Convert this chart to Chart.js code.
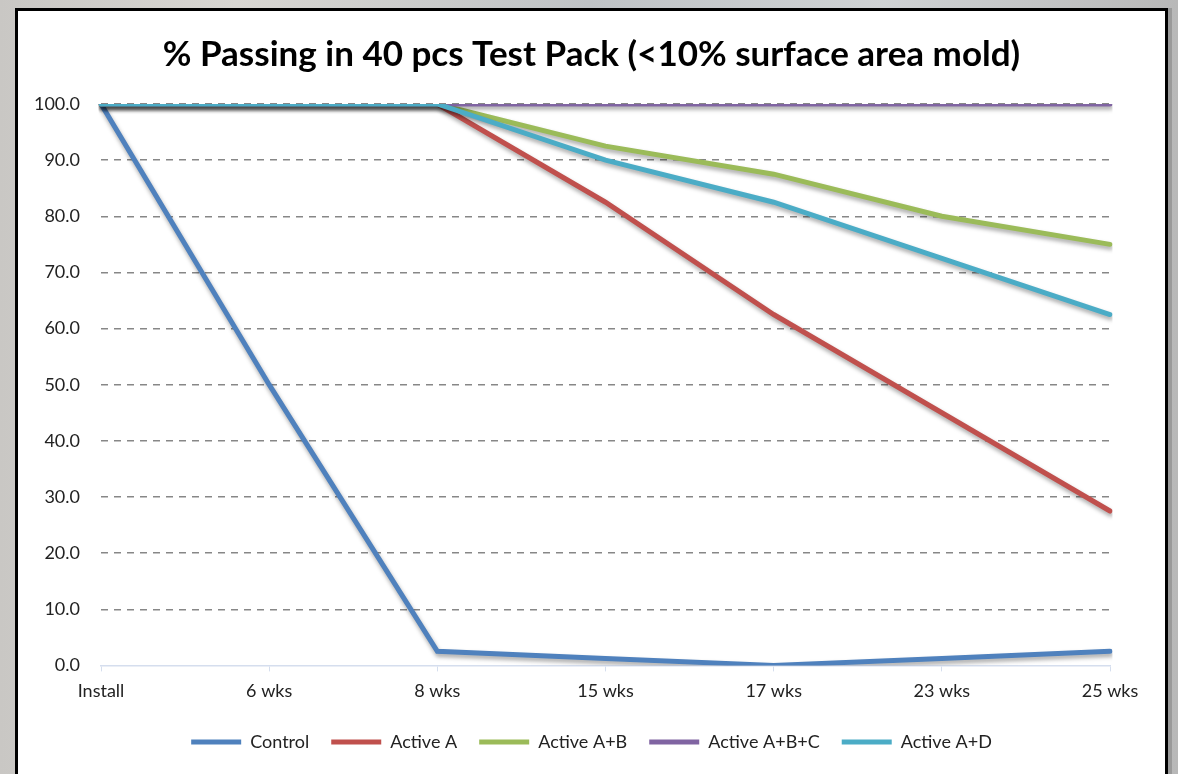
<!DOCTYPE html>
<html>
<head>
<meta charset="utf-8">
<script src="https://cdn.jsdelivr.net/npm/chart.js@4"></script>
<style>
  html, body { margin: 0; padding: 0; }
  body {
    width: 1178px; height: 774px; overflow: hidden;
    background: linear-gradient(90deg, #c9c7c4 0%, #d8d6d2 20%, #bfc3c6 50%, #cfd2d4 75%, #b8b8b8 100%);
    position: relative;
  }
  #panel {
    position: absolute; left: 15px; top: 8px; width: 1147px; height: 780px;
    background: #fff; border: 3px solid #000;
    box-shadow: 4px 0 0 #9a9a9a;
  }
  #wrap { position: absolute; left: 0; top: 0; width: 1147px; height: 763px; }
</style>
</head>
<body>
<div id="panel"><div id="wrap"><canvas id="moldChart"></canvas></div></div>
<script>
const weeks = ['Install', '6 wks', '8 wks', '15 wks', '17 wks', '23 wks', '25 wks'];

const control = [100, 50, 2.5, 1.25, 0, 1.25, 2.5];
const activeA = [100, 100, 100, 82.5, 62.5, 45, 27.5];
const activeAB = [100, 100, 100, 92.5, 87.5, 80, 75];
const activeABC = [100, 100, 100, 100, 100, 100, 100];
const activeAD = [100, 100, 100, 90, 82.5, 72.5, 62.5];

const yTicks = [0, 10, 20, 30, 40, 50, 60, 70, 80, 90, 100];

const font = "Lato, 'Open Sans', sans-serif";

// soft drop shadow under each line, like the office chart
const lineShadow = {
    id: 'lineShadow',
    beforeDatasetDraw(chart) {
        const c = chart.ctx;
        c.save();
        c.shadowColor = 'rgba(0,0,0,0.35)';
        c.shadowBlur = 4;
        c.shadowOffsetX = 1;
        c.shadowOffsetY = 3;
    },
    afterDatasetDraw(chart) {
        chart.ctx.restore();
    }
};

function series(label, data, color, order) {
    return {
        label: label,
        data: data,
        borderColor: color,
        backgroundColor: color,
        borderWidth: 5,
        borderCapStyle: 'round',
        pointRadius: 0,
        tension: 0,
        order: order
    };
}

const ctx = document.getElementById('moldChart').getContext('2d');

const moldChart = new Chart(ctx, {
    type: 'line',
    data: {
        labels: weeks,
        datasets: [
            series('Control', control, '#4F81BD', 4),
            series('Active A', activeA, '#C0504D', 3),
            series('Active A+B', activeAB, '#9BBB59', 2),
            series('Active A+B+C', activeABC, '#8064A2', 1),
            series('Active A+D', activeAD, '#4BACC6', 0)
        ]
    },
    options: {
        responsive: true,
        maintainAspectRatio: false,
        animation: false,
        layout: {
            padding: { left: 0, right: 0, top: 0, bottom: 13 }
        },
        scales: {
            x: {
                offset: false,
                grid: {
                    drawOnChartArea: false,
                    drawTicks: true,
                    tickLength: 6,
                    color: '#d5deee'
                },
                border: { display: true, color: '#d5deee', width: 1.5 },
                ticks: {
                    color: '#222',
                    font: { family: font, size: 18 },
                    padding: 9,
                    maxRotation: 0
                }
            },
            y: {
                min: 0,
                max: 100,
                afterFit(scale) { scale.width = 83; },
                afterBuildTicks(scale) {
                    scale.ticks = yTicks.map(v => ({ value: v }));
                },
                grid: {
                    drawTicks: false,
                    lineWidth: 1.5,
                    color: c => c.tick && c.tick.value === 0 ? 'rgba(0,0,0,0)' : '#878787'
                },
                border: { display: false, dash: [7, 6] },
                ticks: {
                    color: '#222',
                    font: { family: font, size: 18 },
                    padding: 21,
                    callback: v => Number(v).toFixed(1)
                }
            },
            // empty right-hand axis only to keep the plot clear of the border
            spacer: {
                position: 'right',
                min: 0,
                max: 100,
                afterFit(scale) { scale.width = 55; },
                grid: { display: false },
                border: { display: false },
                ticks: { display: false }
            }
        },
        plugins: {
            legend: {
                position: 'bottom',
                labels: {
                    color: '#222',
                    font: { family: font, size: 18 },
                    usePointStyle: true,
                    pointStyle: 'line',
                    pointStyleWidth: 50,
                    padding: 22,
                    sort: (a, b) => a.datasetIndex - b.datasetIndex
                }
            },
            title: {
                display: true,
                text: '% Passing in 40 pcs Test Pack (<10% surface area mold)',
                color: '#000',
                font: { family: font, size: 35, weight: 'bold' },
                padding: { top: 23, bottom: 28 }
            },
            tooltip: { enabled: false }
        }
    },
    plugins: [lineShadow]
});
</script>
</body>
</html>
